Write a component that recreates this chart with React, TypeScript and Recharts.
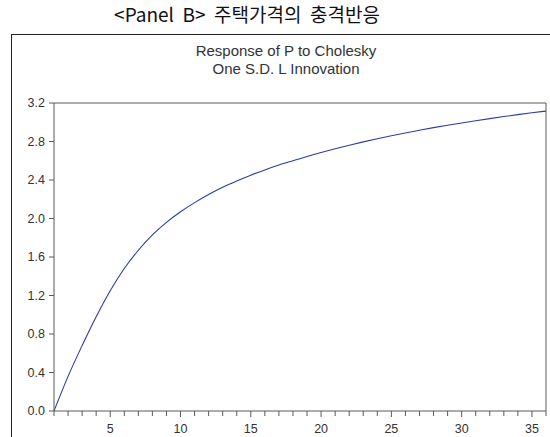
import { LineChart, Line, XAxis, YAxis, ReferenceLine } from 'recharts';

// impulse response of P, periods 1..36
const periods = Array.from({ length: 36 }, (_, i) => i + 1);
const response = [
  0.0, 0.36, 0.68, 0.98, 1.25, 1.48, 1.67, 1.83, 1.96, 2.07,
  2.165, 2.25, 2.325, 2.39, 2.45, 2.505, 2.555, 2.6, 2.644, 2.685,
  2.724, 2.761, 2.796, 2.829, 2.86, 2.889, 2.917, 2.944, 2.969, 2.993,
  3.016, 3.038, 3.059, 3.079, 3.098, 3.116,
];
const yTicks = [0, 0.4, 0.8, 1.2, 1.6, 2.0, 2.4, 2.8, 3.2];
const xLabels = [5, 10, 15, 20, 25, 30, 35];

const chartData = periods.map((p, i) => ({ period: p, value: response[i] }));

const AXIS = '#5a5a5a';
const TEXT = '#333';
const FONT = '"Liberation Sans", Arial, sans-serif';

const PeriodTick = ({ x, y, payload }: any) => {
  const major = xLabels.includes(payload.value);
  return (
    <g>
      <line x1={x} x2={x} y1={y} y2={y + (major ? 6 : 5)} stroke={AXIS} strokeWidth={1} />
      {major && (
        <text x={x} y={y + 22} textAnchor="middle" fill={TEXT} fontSize={12.5} fontFamily={FONT}>
          {payload.value}
        </text>
      )}
    </g>
  );
};

const App = () => {
  return (
    <div
      style={{
        position: 'absolute',
        left: 0,
        top: 0,
        width: 550,
        height: 437,
        background: '#fff',
        overflow: 'hidden',
      }}
    >
      <div
        style={{
          position: 'absolute',
          left: 0,
          top: 0,
          width: 494,
          textAlign: 'center',
          whiteSpace: 'pre',
          fontFamily: '"Noto Sans CJK KR", "Noto Sans", sans-serif',
          fontSize: 19,
          fontWeight: 400,
          color: '#111',
        }}
      >
        {'<Panel  B>  주택가격의  충격반응'}
      </div>
      <div
        style={{
          position: 'absolute',
          left: 11,
          top: 34,
          width: 600,
          height: 500,
          border: '1px solid #222',
        }}
      />
      <div
        style={{
          position: 'absolute',
          left: 0,
          top: 42,
          width: 572,
          textAlign: 'center',
          fontFamily: FONT,
          fontSize: 15,
          lineHeight: '18px',
          color: TEXT,
        }}
      >
        Response of P to Cholesky
        <br />
        One S.D. L Innovation
      </div>
      <div style={{ position: 'absolute', left: 0, top: 0 }}>
        <LineChart
          width={550}
          height={437}
          data={chartData}
          margin={{ top: 103, right: 4, bottom: 0, left: 0 }}
        >
          <XAxis
            dataKey="period"
            type="number"
            domain={[1, 36]}
            ticks={periods}
            interval={0}
            height={26}
            stroke={AXIS}
            tickLine={false}
            tickSize={0}
            tickMargin={0}
            tick={<PeriodTick />}
          />
          <YAxis
            type="number"
            domain={[0, 3.2]}
            ticks={yTicks}
            interval={0}
            width={54}
            stroke={AXIS}
            tickSize={5}
            tickMargin={4}
            tickFormatter={(v: number) => v.toFixed(1)}
            tick={{ fill: TEXT, fontSize: 12.5, fontFamily: FONT }}
          />
          <ReferenceLine y={3.2} stroke={AXIS} strokeWidth={1} />
          <ReferenceLine x={36} stroke={AXIS} strokeWidth={1} />
          <Line
            type="monotone"
            dataKey="value"
            stroke="#2b3ca6"
            strokeWidth={1.1}
            dot={false}
            isAnimationActive={false}
          />
        </LineChart>
      </div>
    </div>
  );
};

export default App;
